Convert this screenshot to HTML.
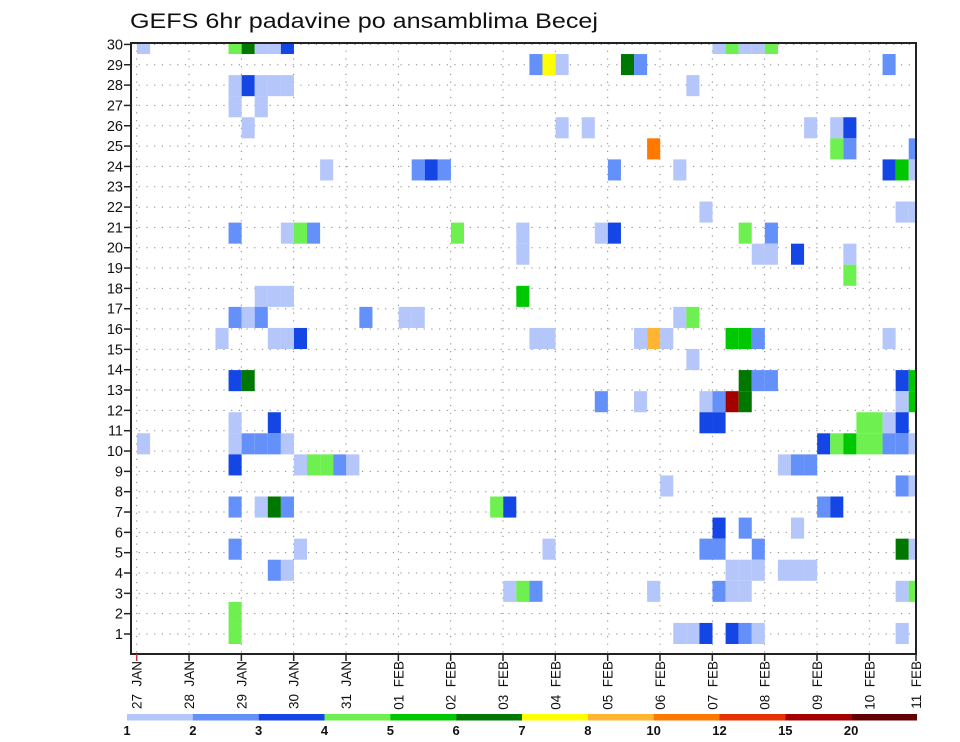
<!DOCTYPE html>
<html><head><meta charset="utf-8"><title>GEFS 6hr padavine po ansamblima Becej</title>
<style>
html,body{margin:0;padding:0;background:#fff;}
svg{display:block;font-family:"Liberation Sans",sans-serif;}
</style></head>
<body>
<svg id="chart" width="960" height="742" viewBox="0 0 960 742" xmlns="http://www.w3.org/2000/svg">
  <defs><clipPath id="plotclip"><rect x="131" y="43" width="785" height="611"/></clipPath></defs>
  <text x="130" y="28" font-size="21" fill="#111" textLength="468" lengthAdjust="spacingAndGlyphs">GEFS 6hr padavine po ansamblima Becej</text>
  <g id="grid"></g>
  <g id="cells" clip-path="url(#plotclip)"></g>
  <rect x="131" y="43" width="785" height="611" fill="none" stroke="#222" stroke-width="2"/>
  <g id="yaxis"></g>
  <g id="xaxis"></g>
  <g id="legend"></g>
</svg>
<script>
// ---- data ----
const dayLabels = ["27 JAN","28 JAN","29 JAN","30 JAN","31 JAN","01 FEB","02 FEB","03 FEB","04 FEB","05 FEB","06 FEB","07 FEB","08 FEB","09 FEB","10 FEB","11 FEB"];
const memberLabels = [1,2,3,4,5,6,7,8,9,10,11,12,13,14,15,16,17,18,19,20,21,22,23,24,25,26,27,28,29,30];
const levelLabels = ["1","2","3","4","5","6","7","8","10","12","15","20"];
const levelColors = ["#b4c6fa","#6490fa","#1446e6","#6ef050","#00c800","#007800","#ffff00","#ffb432","#ff7800","#e63200","#a50000","#640000"];
// cell data: time step (6h index), member, precipitation class (1..12)
const cellStep = [0,7,8,9,10,11,44,45,46,47,48, 30,31,32,37,38,57, 7,8,9,10,11,42, 7,9, 8,32,34,51,53,54, 39,53,54,59, 14,21,22,23,36,41,57,58,59, 43,58,59, 7,11,12,13,24,29,35,36,46,48, 29,47,48,50,54, 54, 9,10,11,29, 7,8,9,17,20,21,41,42, 6,10,11,12,30,31,38,39,40,45,46,47,57, 42, 7,8,46,47,48,58,59, 35,38,43,44,45,46,58,59, 7,10,43,44,55,56,57,58, 0,7,8,9,10,11,52,53,54,55,56,57,58,59, 7,12,13,14,15,16,49,50,51, 40,58,59, 7,9,10,11,27,28,52,53, 44,46,50, 7,12,31,43,44,47,58,59, 10,11,45,46,47,49,50,51, 28,29,30,39,44,45,46,58,59, 7, 7,41,42,43,45,46,47,58];
const cellMember = [29,29,29,29,29,29,29,29,29,29,29, 28,28,28,28,28,28, 27,27,27,27,27,27, 26,26, 25,25,25,25,25,25, 24,24,24,24, 23,23,23,23,23,23,23,23,23, 21,21,21, 20,20,20,20,20,20,20,20,20,20, 19,19,19,19,19, 18, 17,17,17,17, 16,16,16,16,16,16,16,16, 15,15,15,15,15,15,15,15,15,15,15,15,15, 14, 13,13,13,13,13,13,13, 12,12,12,12,12,12,12,12, 11,11,11,11,11,11,11,11, 10,10,10,10,10,10,10,10,10,10,10,10,10,10, 9,9,9,9,9,9,9,9,9, 8,8,8, 7,7,7,7,7,7,7,7, 6,6,6, 5,5,5,5,5,5,5,5, 4,4,4,4,4,4,4,4, 3,3,3,3,3,3,3,3,3, 2, 1,1,1,1,1,1,1,1];
const cellLevel = [1,4,6,1,1,3,1,4,1,1,4, 2,7,1,6,2,2, 1,3,1,1,1,1, 1,1, 1,1,1,1,1,3, 9,4,2,2, 1,2,3,2,2,1,3,5,1, 1,1,1, 2,1,4,2,4,1,1,3,4,2, 1,1,1,3,1, 4, 1,1,1,5, 2,1,2,2,1,1,1,4, 1,1,1,3,1,1,1,8,1,5,5,2,1, 1, 3,6,6,2,2,3,5, 2,1,1,2,11,6,1,5, 1,3,3,3,4,4,1,3, 1,1,2,2,2,1,3,4,5,4,4,2,2,1, 3,1,4,4,2,1,1,2,2, 1,2,1, 2,1,6,2,4,3,2,3, 3,2,1, 2,1,1,2,2,2,6,1, 2,1,1,1,1,1,1,1, 1,4,2,1,2,1,1,1,4, 4, 4,1,1,3,3,2,1,1];

// ---- scales ----
const NS = "http://www.w3.org/2000/svg";
const dayX = d => 136.7 + 52.33 * d;
const stepX = k => 137 + 13.08 * k;
const stepW = 13.08;
const memberTickY = m => 634 - (m - 1) * 20.33;
const cellTop = m => 644 - m * 21.07;
const cellH = 21.07;
function mk(tag, attrs, parent){ const e=document.createElementNS(NS,tag); for(const k in attrs) e.setAttribute(k,attrs[k]); parent.appendChild(e); return e; }

// grid
const grid = document.getElementById('grid');
memberLabels.forEach(m => {
  const l = mk('line',{x1:131,x2:916,y1:memberTickY(m),y2:memberTickY(m),stroke:'#888','stroke-width':1,'stroke-dasharray':'1.2,6.5'},grid);
  
  
});
dayLabels.forEach((d,i) => {
  const x = dayX(i); if (x > 915) return;
  const l = mk('line',{x1:x,x2:x,y1:43,y2:654,stroke:'#888','stroke-width':1,'stroke-dasharray':'1.2,6.5'},grid);
  
  
});

// cells
const cg = document.getElementById('cells');
for (let j = 0; j < cellStep.length; j++) {
  const r = mk('rect',{x:stepX(cellStep[j]),y:cellTop(cellMember[j]),width:stepW,height:cellH,fill:levelColors[cellLevel[j]-1]},cg);
  
  
}

// y axis
const ya = document.getElementById('yaxis');
memberLabels.forEach(m => {
  const y = memberTickY(m);
  const t = mk('line',{x1:124,x2:131,y1:y,y2:y,stroke:'#222','stroke-width':1.5},ya);
  
  
  const tx = mk('text',{x:123,y:y+5,'text-anchor':'end','font-size':14.5,fill:'#111'},ya);
  tx.textContent = m;
  
  
});

// x axis
const xa = document.getElementById('xaxis');
dayLabels.forEach((d,i) => {
  const x = Math.min(dayX(i), 916);
  const t = mk('line',{x1:x,x2:x,y1:654,y2:661,stroke:i===0?'#c33':'#222','stroke-width':1.5},xa);
  
  
  const tx = mk('text',{x:0,y:0,'text-anchor':'end','font-size':13.5,fill:'#111',transform:`translate(${x+5},661) rotate(-90)`},xa);
  tx.textContent = d.replace(' ', '\u00a0\u00a0');
  
  
});

// legend colorbar
const lg = document.getElementById('legend');
const cbX = i => 127 + i * 65.83;
levelColors.forEach((c,i) => {
  const r = mk('rect',{x:cbX(i),y:714,width:65.9,height:6.5,fill:c},lg);
  
  
});
levelLabels.forEach((l,i) => {
  const tx = mk('text',{x:cbX(i),y:735,'text-anchor':'middle','font-size':13,'font-weight':'bold',fill:'#111'},lg);
  tx.textContent = l;
  
  
});
</script>
</body></html>
